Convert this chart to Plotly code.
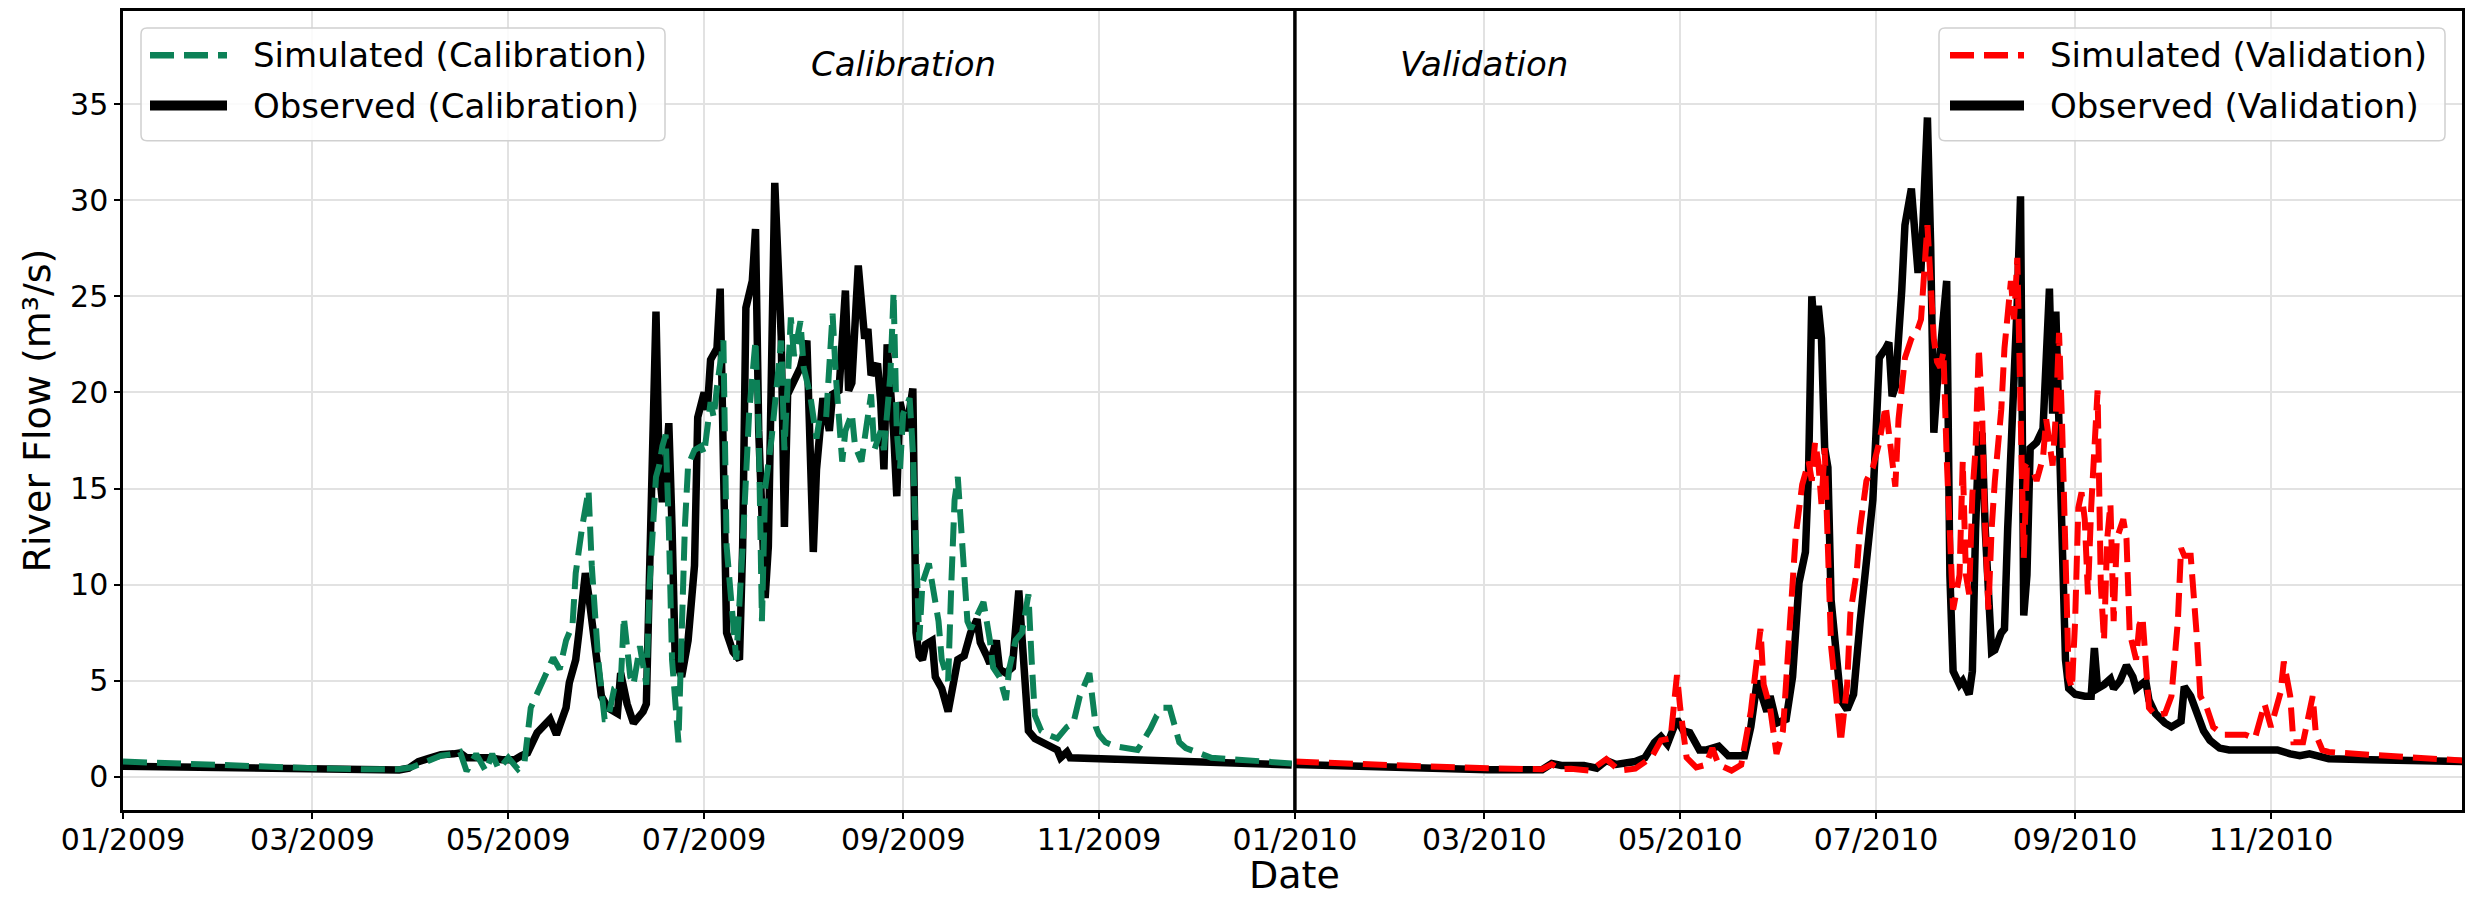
import pandas as pd
import plotly.graph_objects as go

# ---------------- data (day offsets from period start, flow in m3/s) ----------------
cal_start = "2009-01-01"
val_start = "2010-01-01"

cal_obs_day = [0, 15, 30, 45, 60, 75, 86, 89, 92, 95, 99, 103, 105, 107, 111, 114, 118, 122, 124, 126,
               129, 133, 135, 138, 139, 141, 142, 143, 144, 145, 147, 149, 151, 154, 155, 157, 159, 162,
               163, 164, 165, 166, 167, 168, 169, 170, 171, 172, 174, 176, 178, 179, 181, 182, 183, 185,
               186, 187, 188, 190, 192, 193, 194, 196, 197, 198, 200, 201, 202, 203, 205, 206, 207, 209,
               211, 213, 214, 215, 216, 218, 220, 221, 223, 225, 226, 227, 229, 231, 232, 233, 235, 236,
               237, 238, 240, 241, 242, 244, 246, 247, 248, 249, 250, 252, 253, 255, 257, 259, 260, 262,
               264, 266, 267, 269, 270, 272, 273, 275, 277, 279, 280, 281, 282, 284, 287, 289, 291, 292,
               294, 295, 307, 330, 364]
cal_obs_val = [0.55, 0.5, 0.45, 0.4, 0.37, 0.36, 0.36, 0.45, 0.8, 0.95, 1.15, 1.2, 1.25, 1.0, 1.05, 1.0, 0.9, 0.9, 1.1, 1.25,
               2.3, 3.0, 2.2, 3.6, 4.9, 6.1, 7.5, 9.1, 10.6, 9.5, 6.5, 4.2, 3.6, 3.3, 5.4, 3.8, 2.8, 3.4,
               3.8, 10.1, 16, 24.2, 16, 14.3, 16, 18.4, 13, 6.1, 5.2, 7.1, 11, 18.7, 20, 19.1, 21.7, 22.3,
               25.4, 18, 7.5, 6.5, 6.1, 12, 24.4, 25.8, 28.5, 18, 9.3, 12, 23.9, 30.9, 22.9, 13, 19.9, 20.7,
               21.3, 22.7, 18, 11.7, 16, 19.7, 18, 19.9, 20.1, 25.3, 20.1, 20.5, 26.6, 22.8, 23.3, 20.9, 21.5, 19.5,
               16, 22.5, 18, 14.6, 19.5, 18, 20.2, 7.5, 6.3, 6.1, 6.9, 7.1, 5.2, 4.6, 3.4, 5.2, 6.1, 6.3,
               7.5, 8.2, 7.0, 6.3, 5.9, 7.1, 5.6, 5.4, 5.7, 9.7, 7.3, 4.2, 2.4, 2.0, 1.7, 1.6, 1.4, 1.0,
               1.3, 1.0, 0.93, 0.8, 0.62]

cal_sim_day = [0, 15, 30, 45, 60, 75, 86, 90, 95, 99, 103, 105, 107, 110, 113, 115, 117, 120, 123, 125,
               127, 131, 134, 136, 138, 140, 141, 143, 145, 146, 148, 150, 151, 153, 155, 156, 158, 159,
               161, 163, 164, 166, 167, 168, 169, 170, 171, 173, 174, 175, 176, 178, 180, 181, 183, 184,
               185, 187, 188, 190, 191, 193, 195, 197, 198, 199, 200, 202, 203, 205, 206, 207, 208, 209,
               211, 212, 214, 216, 217, 219, 221, 222, 224, 225, 227, 228, 230, 231, 233, 234, 236, 237,
               239, 240, 241, 242, 243, 245, 246, 247, 248, 249, 251, 252, 254, 255, 257, 258, 259, 260,
               261, 262, 263, 264, 266, 268, 270, 271, 273, 275, 276, 278, 280, 282, 283, 284, 286, 288,
               291, 294, 296, 298, 301, 303, 304, 306, 309, 316, 320, 322, 324, 326, 329, 331, 339, 347, 364]
cal_sim_val = [0.8, 0.7, 0.6, 0.5, 0.45, 0.4, 0.4, 0.5, 0.8, 1.1, 1.2, 1.3, 0.3, 1.2, 0.3, 1.2, 0.4, 1.0, 0.4, 0.7,
               3.6, 5.2, 6.2, 5.6, 7.1, 7.9, 10.6, 13, 14.9, 11, 6.1, 3.0, 3.0, 4.6, 4.8, 8.3, 5.2, 4.8,
               6.8, 4.8, 10, 15.6, 16.2, 17.2, 17.8, 13, 6.1, 1.8, 8.1, 13, 16.2, 17, 17.2, 16.8, 19.5, 18.7,
               20.3, 22.7, 12, 8.1, 6.1, 12, 18.9, 22.7, 18, 8.1, 15, 17.6, 19.3, 22.7, 17, 19.9, 23.9, 21.9,
               23.7, 21.3, 19.9, 17.6, 18.7, 18.7, 24.1, 20.9, 16.4, 18, 18.9, 17.2, 16.4, 17.6, 19.9, 17, 18, 17,
               20.9, 25.2, 18, 16, 18.9, 19.7, 17, 12, 7.1, 10.1, 11.1, 10.1, 8.1, 6.1, 5.0, 10.1, 14.4, 15.6,
               13, 10.1, 8.1, 7.7, 8.5, 9.1, 7.1, 5.7, 5.2, 4.0, 5.6, 7.1, 7.5, 9.5, 6.1, 3.2, 2.4, 2.2,
               2.0, 2.6, 2.8, 4.2, 5.4, 2.6, 2.2, 1.8, 1.6, 1.4, 2.5, 3.2, 3.6, 3.6, 1.8, 1.5, 1.0, 0.9, 0.7]

val_obs_day = [0, 20, 40, 60, 77, 80, 83, 86, 90, 94, 97, 100, 104, 106, 109, 112, 114, 116, 119, 121,
               123, 126, 128, 132, 135, 140, 142, 144, 147, 148, 150, 153, 155, 157, 159, 160, 161, 162,
               163, 164, 165, 166, 167, 169, 170, 172, 174, 176, 178, 180, 181, 182, 184, 185, 186, 187,
               189, 190, 192, 193, 194, 195, 196, 197, 198, 199, 200, 202, 203, 204, 205, 207, 208, 210,
               211, 212, 213, 214, 215, 217, 218, 220, 221, 222, 223, 224, 225, 226, 227, 228, 229, 231,
               233, 235, 236, 237, 238, 239, 240, 241, 243, 246, 248, 249, 250, 252, 254, 255, 257, 259,
               261, 262, 265, 266, 268, 271, 273, 276, 277, 279, 281, 283, 285, 288, 291, 295, 300, 306,
               310, 313, 316, 319, 322, 335, 350, 364]
val_obs_val = [0.65, 0.55, 0.45, 0.38, 0.38, 0.7, 0.6, 0.63, 0.6, 0.45, 0.85, 0.65, 0.75, 0.8, 1.0, 1.8, 2.1, 1.7, 3.0, 2.4,
               2.3, 1.4, 1.4, 1.6, 1.1, 1.1, 2.6, 5.0, 3.4, 4.2, 2.8, 3.0, 5.2, 10.1, 11.7, 16, 25, 22.8,
               24.5, 22.8, 17.1, 16.1, 9.2, 6.0, 4.0, 3.5, 4.3, 8.0, 11.7, 14.4, 17.9, 21.8, 22.3, 22.6, 19.8, 20.3,
               25.3, 28.7, 30.6, 27.7, 26.4, 26.4, 30.2, 34.3, 27.7, 17.9, 20.3, 24.0, 25.8, 10.5, 5.5, 4.8, 5.0, 4.3,
               5.5, 12.9, 17.6, 17.9, 12.9, 6.5, 6.6, 7.5, 7.7, 12.9, 16.6, 21.1, 24.8, 30.2, 8.4, 10.5, 17.1, 17.4,
               18.1, 25.4, 18.9, 24.2, 18, 12, 6.1, 4.6, 4.3, 4.2, 4.2, 6.7, 4.6, 4.8, 5.1, 4.6, 5.0, 5.8,
               5.2, 4.6, 5.0, 4.0, 3.3, 2.8, 2.6, 2.9, 4.7, 4.2, 3.4, 2.4, 1.9, 1.5, 1.4, 1.4, 1.4, 1.4,
               1.2, 1.1, 1.2, 1.1, 0.95, 0.9, 0.85, 0.8]

val_sim_day = [0, 20, 40, 60, 77, 80, 83, 86, 92, 97, 101, 106, 111, 114, 117, 119, 120, 122, 125, 128,
               130, 132, 136, 139, 142, 145, 146, 148, 150, 152, 154, 156, 158, 160, 161, 162, 163, 164,
               165, 166, 167, 169, 170, 172, 173, 175, 176, 178, 180, 182, 184, 185, 187, 188, 190, 192,
               194, 195, 196, 197, 199, 200, 201, 202, 203, 204, 205, 207, 208, 209, 210, 211, 212, 213,
               214, 215, 216, 217, 218, 220, 221, 223, 224, 225, 226, 227, 228, 230, 231, 233, 234, 236,
               237, 238, 239, 240, 241, 242, 243, 244, 245, 246, 247, 248, 250, 251, 252, 253, 254, 255,
               256, 258, 259, 260, 262, 263, 264, 266, 268, 271, 273, 275, 276, 277, 279, 281, 282, 284,
               286, 289, 293, 296, 299, 302, 304, 305, 307, 308, 310, 311, 314, 317, 318, 320, 322, 335, 350, 364]
val_sim_val = [0.8, 0.65, 0.55, 0.45, 0.4, 0.65, 0.4, 0.43, 0.33, 0.93, 0.33, 0.43, 1.0, 1.9, 2.0, 5.3, 3.6, 1.0, 0.5, 0.63,
               1.5, 0.63, 0.33, 0.63, 3.4, 7.7, 4.8, 3.6, 1.2, 2.4, 7.1, 12.6, 15.2, 16.4, 15.4, 17.4, 16.4, 14.2,
               17.1, 12.9, 6.8, 3.5, 1.8, 4.8, 8.5, 10.7, 12.9, 15.4, 16.1, 17.4, 19.3, 17.9, 15.1, 18.6, 21.8, 22.8,
               23.3, 23.8, 26.0, 28.7, 22.8, 21.6, 21.3, 22.1, 16.6, 11.7, 8.7, 10.5, 16.4, 10.5, 9.5, 14.7, 17.1, 22.3,
               19.1, 12.9, 8.7, 12.9, 15.4, 19.1, 22.3, 25.8, 23.8, 27.0, 20.3, 11.4, 16.1, 15.9, 15.4, 16.6, 18.6, 16.2,
               18.9, 23.1, 18, 12, 5.2, 4.6, 8.1, 14, 14.8, 13.4, 9.5, 14, 20.1, 10.0, 7.1, 12.4, 14.2, 8.1,
               12.4, 13.4, 12.4, 7.5, 6.1, 7.9, 8.3, 3.6, 3.2, 3.3, 4.2, 8.1, 11.9, 11.5, 11.5, 7.1, 4.2, 3.6,
               2.6, 2.2, 2.2, 2.2, 2.0, 3.8, 2.6, 3.2, 4.4, 6.0, 4.2, 1.8, 1.8, 4.2, 2.2, 1.4, 1.3, 1.15, 1.0, 0.85]

x_tick_start = "2009-01-01"
x_range = ["2009-01-01", "2010-12-30 12:00"]
y_range = [-1.72, 39.84]
y_ticks = [0, 5, 10, 15, 20, 25, 30, 35]
split_date = "2010-01-01"

x_title = "Date"
y_title = "River Flow (m³/s)"
legend_cal = ["Simulated (Calibration)", "Observed (Calibration)"]
legend_val = ["Simulated (Validation)", "Observed (Validation)"]
period_labels = ["Calibration", "Validation"]
period_label_x = ["2009-09-01", "2010-03-01"]
period_label_y = 37.1

# ---------------- styles ----------------
GREEN = "#0c8157"
RED = "#ff0000"
BLACK = "#000000"
FONT = "DejaVu Sans"
DASH = "24px,10px"
W, H = 2483, 900
OFF = 8  # default body margin of the html page
L, R, T, B = 123, 2462, 8, 802  # plot area in page pixels


def dates(start, days):
    return pd.Timestamp(start) + pd.to_timedelta(days, unit="D")


def px(x):
    return (x - L) / (R - L)


def py(y):
    return (B - y) / (B - T)


fig = go.Figure()
fig.add_trace(go.Scatter(x=dates(cal_start, cal_obs_day), y=cal_obs_val, mode="lines",
                         line=dict(color=BLACK, width=7.5), name=legend_cal[1], showlegend=False))
fig.add_trace(go.Scatter(x=dates(val_start, val_obs_day), y=val_obs_val, mode="lines",
                         line=dict(color=BLACK, width=7.5), name=legend_val[1], showlegend=False))
fig.add_trace(go.Scatter(x=dates(cal_start, cal_sim_day), y=cal_sim_val, mode="lines",
                         line=dict(color=GREEN, width=6, dash=DASH), name=legend_cal[0], showlegend=False))
fig.add_trace(go.Scatter(x=dates(val_start, val_sim_day), y=val_sim_val, mode="lines",
                         line=dict(color=RED, width=6, dash=DASH), name=legend_val[0], showlegend=False))

shapes = [dict(type="line", xref="x", yref="paper", x0=split_date, x1=split_date, y0=0, y1=1,
               line=dict(color=BLACK, width=3.5))]
annotations = []
for txt, xd in zip(period_labels, period_label_x):
    annotations.append(dict(x=xd, y=period_label_y, xref="x", yref="y", text="<i>%s</i>" % txt,
                            showarrow=False, font=dict(family=FONT, size=34, color=BLACK),
                            xanchor="center", yanchor="middle"))

# x-axis title placed as annotation for exact position
annotations.append(dict(x=px(1294), y=py(867), xref="paper", yref="paper", text=x_title,
                        showarrow=False, xanchor="center", yanchor="middle",
                        font=dict(family=FONT, size=38, color=BLACK)))


def rounded_box(x0, y0, x1, y1, r=6):
    rx = r / (R - L)
    ry = r / (B - T)
    a, b, c, d = px(x0), py(y1), px(x1), py(y0)  # left, bottom, right, top in paper
    return (f"M{a+rx},{b} L{c-rx},{b} Q{c},{b} {c},{b+ry} L{c},{d-ry} Q{c},{d} {c-rx},{d} "
            f"L{a+rx},{d} Q{a},{d} {a},{d-ry} L{a},{b+ry} Q{a},{b} {a+rx},{b} Z")


def add_legend(box, sample_x, text_x, labels, sim_color):
    shapes.append(dict(type="path", xref="paper", yref="paper", path=rounded_box(*box),
                       line=dict(color="#d0d0d0", width=1.5), fillcolor="rgba(255,255,255,0.85)",
                       layer="above"))
    rows = [52, 102]
    shapes.append(dict(type="line", xref="paper", yref="paper", x0=px(sample_x[0]), x1=px(sample_x[1]),
                       y0=py(rows[0]), y1=py(rows[0]), line=dict(color=sim_color, width=6.5, dash=DASH),
                       layer="above"))
    shapes.append(dict(type="line", xref="paper", yref="paper", x0=px(sample_x[0]), x1=px(sample_x[1]),
                       y0=py(rows[1]), y1=py(rows[1]), line=dict(color=BLACK, width=10), layer="above"))
    for lab, ry in zip(labels, rows):
        annotations.append(dict(x=px(text_x), y=py(ry), xref="paper", yref="paper", text=lab,
                                showarrow=False, xanchor="left", yanchor="middle",
                                font=dict(family=FONT, size=34, color=BLACK)))


add_legend((141, 25, 665, 137), (150, 227), 251, legend_cal, GREEN)
add_legend((1939, 25, 2445, 137), (1950, 2024), 2048, legend_val, RED)

fig.update_layout(
    width=W - OFF, height=H - OFF,
    margin=dict(l=L - OFF, r=W - R, t=T - OFF, b=H - B - OFF),
    paper_bgcolor="white", plot_bgcolor="white",
    showlegend=False,
    shapes=shapes, annotations=annotations,
    font=dict(family=FONT, color=BLACK),
    xaxis=dict(type="date", range=x_range, tick0=x_tick_start, dtick="M2", tickformat="%m/%Y",
               showgrid=True, gridcolor="#e2e2e2", gridwidth=2,
               showline=True, linecolor=BLACK, linewidth=2.5, mirror=True,
               ticks="outside", ticklen=6, tickwidth=2, tickcolor=BLACK,
               ticklabelstandoff=-5,
               tickfont=dict(family=FONT, size=30, color=BLACK),
               zeroline=False),
    yaxis=dict(range=y_range, tickvals=y_ticks, showgrid=True, gridcolor="#e2e2e2", gridwidth=2,
               showline=True, linecolor=BLACK, linewidth=2.5, mirror=True,
               ticks="outside", ticklen=6, tickwidth=2, tickcolor=BLACK,
               tickfont=dict(family=FONT, size=30, color=BLACK),
               title=dict(text=y_title, font=dict(family=FONT, size=38, color=BLACK), standoff=8),
               zeroline=False),
)

fig.write_html("out.html")
